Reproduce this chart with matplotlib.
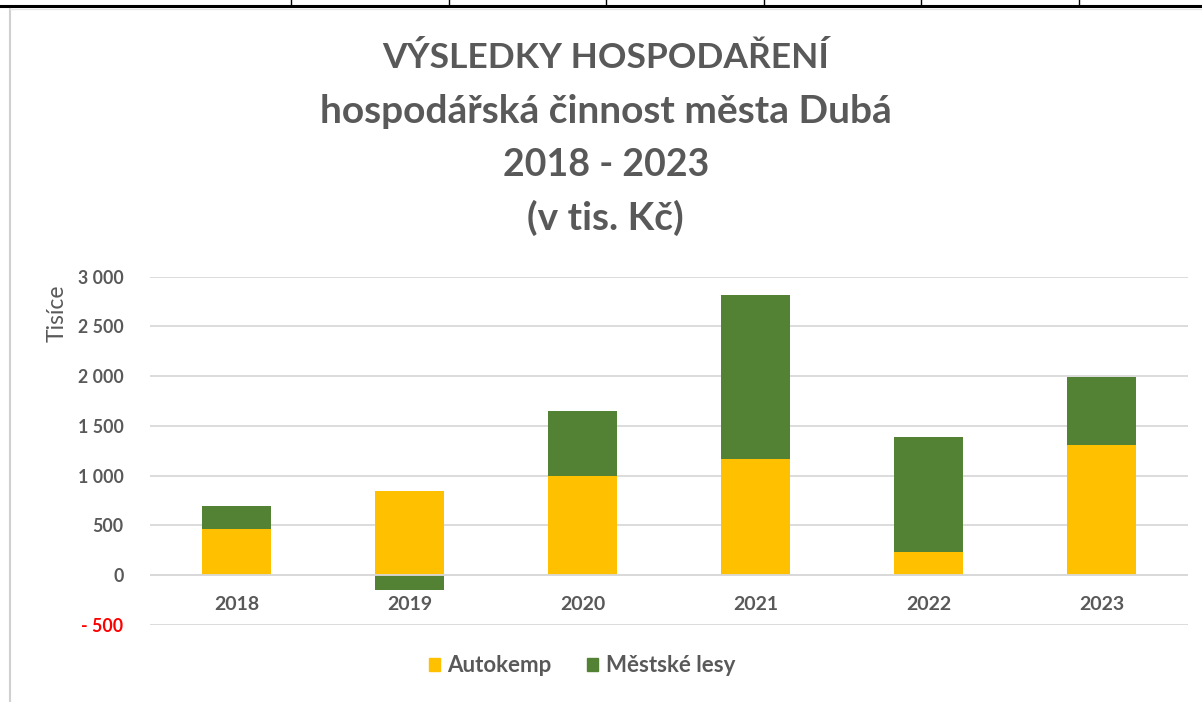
import matplotlib
matplotlib.use("Agg")
import matplotlib.pyplot as plt
from matplotlib.lines import Line2D
from matplotlib.patches import Rectangle
import numpy as np

years = ["2018", "2019", "2020", "2021", "2022", "2023"]
autokemp = [464, 843, 998, 1171, 233, 1306]
mestske_lesy = [231, -155, 647, 1641, 1158, 690]
series_names = ["Autokemp", "Městské lesy"]
yticks = [-500, 0, 500, 1000, 1500, 2000, 2500, 3000]
title_lines = ["VÝSLEDKY HOSPODAŘENÍ", "hospodářská činnost města Dubá",
               "2018 - 2023", "(v tis. Kč)"]

W, H = 1202, 702
DPI = 100
TEXT = "#595959"
YELLOW = "#FFC000"
GREEN = "#548235"
GRID = "#D9D9D9"
FONT = ["Lato", "DejaVu Sans"]

plt.rcParams["font.family"] = FONT

fig = plt.figure(figsize=(W / DPI, H / DPI), dpi=DPI)
fig.patch.set_facecolor("white")

def fx(px):
    return px / W

def fy(py):
    return 1 - py / H

# spreadsheet cell borders at top
fig.add_artist(Line2D([0, 1], [fy(5.5), fy(5.5)], color="black", lw=2.2))
for xv in [291, 449, 606, 764, 921, 1079]:
    fig.add_artist(Line2D([fx(xv), fx(xv)], [fy(0), fy(5)], color="black", lw=1.0))
fig.add_artist(Rectangle((0, fy(8)), fx(7), fy(5.5) - fy(8), color="black", lw=0))
# chart area border
fig.add_artist(Line2D([fx(10), fx(10)], [fy(9), 0], color="#D0D0D0", lw=1.5))
fig.add_artist(Line2D([fx(10), 1], [fy(9), fy(9)], color="#E6E6E6", lw=1.0))

ax = fig.add_axes([fx(150), fy(624.7), fx(1188) - fx(150), fy(276.7) - fy(624.7)])
x = np.arange(len(years))
w = 0.4
a = np.array(autokemp, dtype=float)
m = np.array(mestske_lesy, dtype=float)
bottom_m = np.where(m >= 0, np.maximum(a, 0), np.minimum(a, 0))
ax.bar(x, a, width=w, color=YELLOW, zorder=2, label=series_names[0])
ax.bar(x, m, width=w, bottom=bottom_m, color=GREEN, zorder=2, label=series_names[1])
ax.axhline(0, color=GRID, lw=1.3, zorder=3)

ax.set_xlim(-0.5, len(years) - 0.5)
ax.set_ylim(yticks[0], yticks[-1])
ax.set_yticks(yticks)
ax.yaxis.grid(True, color=GRID, lw=1.3, zorder=0)
ax.set_axisbelow(True)
for s in ax.spines.values():
    s.set_visible(False)
ax.tick_params(length=0)

def fmt(v):
    if v < 0:
        return "- " + f"{-v:,}".replace(",", " ")
    return f"{v:,}".replace(",", " ")

ax.set_yticklabels([fmt(v) for v in yticks], fontsize=12.8, fontweight="bold", color=TEXT)
for lab, v in zip(ax.get_yticklabels(), yticks):
    if v < 0:
        lab.set_color("#FF0000")
ax.tick_params(axis="y", pad=19)
ax.set_xticks(x)
ax.set_xticklabels([])
for xi, yr in zip(x, years):
    ax.annotate(yr, xy=(xi, 0), xycoords="data", xytext=(0, -21.6), textcoords="offset points",
                ha="center", va="center", fontsize=14, fontweight="bold", color=TEXT)

fig.text(fx(57), fy(313), "Tisíce", rotation=90, ha="center", va="center",
         fontsize=16.5, color=TEXT)

title_sizes = [25.5, 28, 27, 28]
for i, (t, sz) in enumerate(zip(title_lines, title_sizes)):
    fig.text(0.504, fy(58 + 53.3 * i), t, ha="center", va="center",
             fontsize=sz, fontweight="bold", color=TEXT)

leg = fig.legend(handles=[Rectangle((0, 0), 1, 1, color=YELLOW), Rectangle((0, 0), 1, 1, color=GREEN)],
                 labels=series_names, loc="center", bbox_to_anchor=(fx(582), fy(666)),
                 ncol=2, frameon=False, handlelength=0.5, handleheight=0.5, handletextpad=0.35,
                 columnspacing=1.6, prop={"size": 16, "weight": "bold"})
for t in leg.get_texts():
    t.set_color(TEXT)

fig.savefig("out.png", dpi=DPI, facecolor="white")
